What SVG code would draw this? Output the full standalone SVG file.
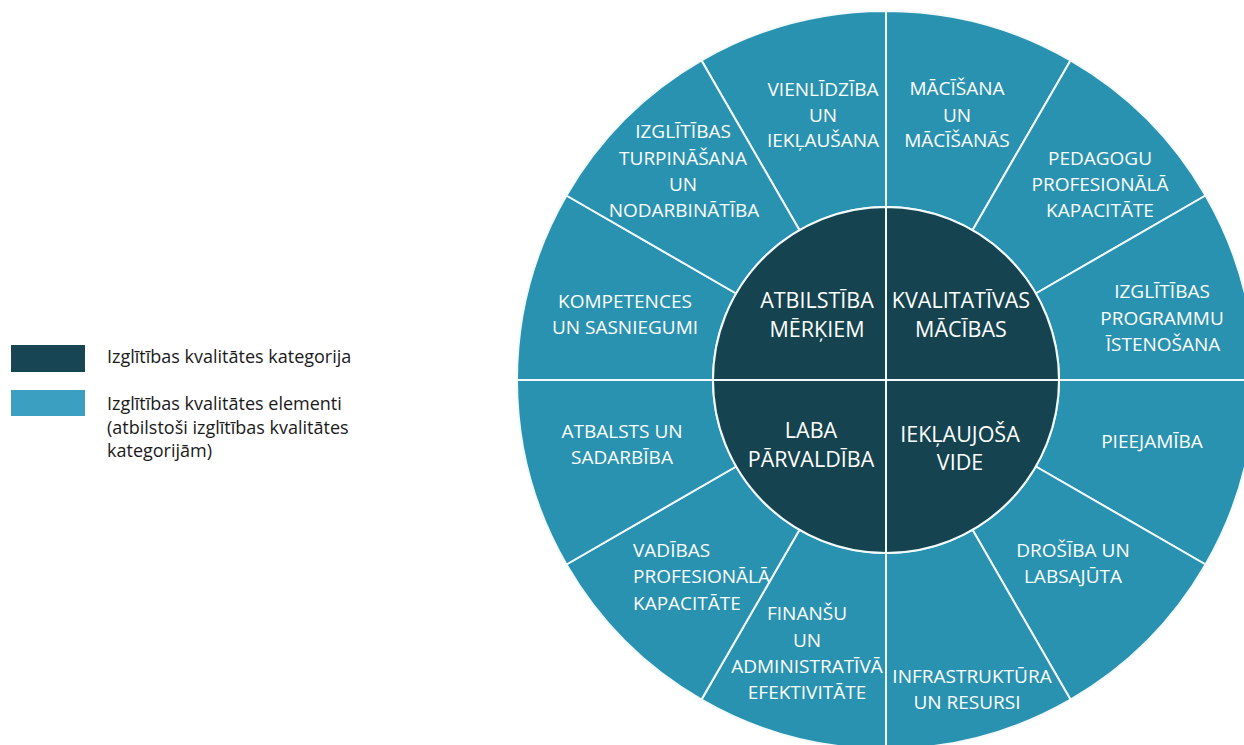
<svg xmlns="http://www.w3.org/2000/svg" width="1244" height="745" viewBox="0 0 1244 745">
<style>
.seg{fill:#2992B0;stroke:#F2FAFC;stroke-width:2}
.cat{fill:#15434F;stroke:#F2FAFC;stroke-width:2}
.t{font-family:"Open Sans","Liberation Sans",sans-serif;font-size:19px;fill:#FFFFFF;text-anchor:middle}
.c{font-family:"Open Sans","Liberation Sans",sans-serif;font-size:21.5px;fill:#FFFFFF;text-anchor:middle}
.l{font-family:"Open Sans","Liberation Sans",sans-serif;font-size:18px;fill:#1A1A1A}
</style>
<rect width="1244" height="745" fill="#FFFFFF"/>
<g id="legend">
<rect x="11" y="345" width="74" height="27" fill="#174553"/>
<text class="l" x="107" y="363">Izglītības kvalitātes kategorija</text>
<rect x="11" y="390" width="74" height="26" fill="#3A9FC0"/>
<text class="l" x="107" y="410">Izglītības kvalitātes elementi</text>
<text class="l" x="107" y="434">(atbilstoši izglītības kvalitātes</text>
<text class="l" x="107" y="457">kategorijām)</text>
</g>
<g id="el-vienlidziba">
<path class="seg" d="M799.5 230.18 L701.5 60.44 A369 369 0 0 1 886 11 L886 207 A173 173 0 0 0 799.5 230.18 Z"/>
<text class="t" x="823" y="96">VIENLĪDZĪBA</text>
<text class="t" x="823" y="122">UN</text>
<text class="t" x="823" y="147">IEKĻAUŠANA</text>
</g>
<g id="el-macisana">
<path class="seg" d="M886 207 L886 11 A369 369 0 0 1 1070.5 60.44 L972.5 230.18 A173 173 0 0 0 886 207 Z"/>
<text class="t" x="957" y="95">MĀCĪŠANA</text>
<text class="t" x="957" y="122">UN</text>
<text class="t" x="957" y="147">MĀCĪŠANĀS</text>
</g>
<g id="el-pedagogu">
<path class="seg" d="M972.5 230.18 L1070.5 60.44 A369 369 0 0 1 1205.56 195.5 L1035.82 293.5 A173 173 0 0 0 972.5 230.18 Z"/>
<text class="t" x="1100" y="165">PEDAGOGU</text>
<text class="t" x="1100" y="191">PROFESIONĀLĀ</text>
<text class="t" x="1100" y="217">KAPACITĀTE</text>
</g>
<g id="el-programmu">
<path class="seg" d="M1035.82 293.5 L1205.56 195.5 A369 369 0 0 1 1255 380 L1059 380 A173 173 0 0 0 1035.82 293.5 Z"/>
<text class="t" x="1162" y="298">IZGLĪTĪBAS</text>
<text class="t" x="1162" y="325">PROGRAMMU</text>
<text class="t" x="1163" y="351">ĪSTENOŠANA</text>
</g>
<g id="el-pieejamiba">
<path class="seg" d="M1059 380 L1255 380 A369 369 0 0 1 1205.56 564.5 L1035.82 466.5 A173 173 0 0 0 1059 380 Z"/>
<text class="t" x="1152" y="448">PIEEJAMĪBA</text>
</g>
<g id="el-drosiba">
<path class="seg" d="M1035.82 466.5 L1205.56 564.5 A369 369 0 0 1 1070.5 699.56 L972.5 529.82 A173 173 0 0 0 1035.82 466.5 Z"/>
<text class="t" x="1073" y="557">DROŠĪBA UN</text>
<text class="t" x="1073" y="583">LABSAJŪTA</text>
</g>
<g id="el-infrastruktura">
<path class="seg" d="M972.5 529.82 L1070.5 699.56 A369 369 0 0 1 886 749 L886 553 A173 173 0 0 0 972.5 529.82 Z"/>
<text class="t" x="972" y="683">INFRASTRUKTŪRA</text>
<text class="t" x="967" y="709">UN RESURSI</text>
</g>
<g id="el-finansu">
<path class="seg" d="M886 553 L886 749 A369 369 0 0 1 701.5 699.56 L799.5 529.82 A173 173 0 0 0 886 553 Z"/>
<text class="t" x="807" y="620">FINANŠU</text>
<text class="t" x="807" y="647">UN</text>
<text class="t" x="807" y="673">ADMINISTRATĪVĀ</text>
<text class="t" x="807" y="699">EFEKTIVITĀTE</text>
</g>
<g id="el-vadibas">
<path class="seg" d="M799.5 529.82 L701.5 699.56 A369 369 0 0 1 566.44 564.5 L736.18 466.5 A173 173 0 0 0 799.5 529.82 Z"/>
<text class="t" x="633" y="557" style="text-anchor:start">VADĪBAS</text>
<text class="t" x="633" y="583" style="text-anchor:start">PROFESIONĀLĀ</text>
<text class="t" x="633" y="610" style="text-anchor:start">KAPACITĀTE</text>
</g>
<g id="el-atbalsts">
<path class="seg" d="M736.18 466.5 L566.44 564.5 A369 369 0 0 1 517 380 L713 380 A173 173 0 0 0 736.18 466.5 Z"/>
<text class="t" x="622" y="438">ATBALSTS UN</text>
<text class="t" x="622" y="464">SADARBĪBA</text>
</g>
<g id="el-kompetences">
<path class="seg" d="M713 380 L517 380 A369 369 0 0 1 566.44 195.5 L736.18 293.5 A173 173 0 0 0 713 380 Z"/>
<text class="t" x="625" y="308">KOMPETENCES</text>
<text class="t" x="625" y="334">UN SASNIEGUMI</text>
</g>
<g id="el-turpinasana">
<path class="seg" d="M736.18 293.5 L566.44 195.5 A369 369 0 0 1 701.5 60.44 L799.5 230.18 A173 173 0 0 0 736.18 293.5 Z"/>
<text class="t" x="683" y="138">IZGLĪTĪBAS</text>
<text class="t" x="683" y="165">TURPINĀŠANA</text>
<text class="t" x="683" y="191">UN</text>
<text class="t" x="684" y="217">NODARBINĀTĪBA</text>
</g>
<g id="cat-atbilstiba">
<path class="cat" d="M886 380 L713 380 A173 173 0 0 1 886 207 Z"/>
<text class="c" x="817" y="308">ATBILSTĪBA</text>
<text class="c" x="817" y="337">MĒRĶIEM</text>
</g>
<g id="cat-kvalitativas">
<path class="cat" d="M886 380 L886 207 A173 173 0 0 1 1059 380 Z"/>
<text class="c" x="961" y="308">KVALITATĪVAS</text>
<text class="c" x="961" y="337">MĀCĪBAS</text>
</g>
<g id="cat-iekjaujosa">
<path class="cat" d="M886 380 L1059 380 A173 173 0 0 1 886 553 Z"/>
<text class="c" x="960" y="442">IEKĻAUJOŠA</text>
<text class="c" x="960" y="470">VIDE</text>
</g>
<g id="cat-parvaldiba">
<path class="cat" d="M886 380 L886 553 A173 173 0 0 1 713 380 Z"/>
<text class="c" x="811" y="438">LABA</text>
<text class="c" x="811" y="467">PĀRVALDĪBA</text>
</g>
<g id="connectors"></g>
</svg>
